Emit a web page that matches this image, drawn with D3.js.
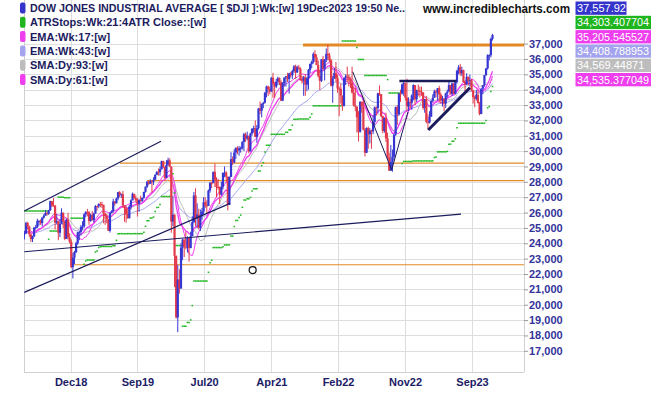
<!DOCTYPE html>
<html>
<head>
<meta charset="utf-8">
<script src="https://cdn.jsdelivr.net/npm/d3@7"></script>
<style>
  body { margin: 0; background: #fff; }
  svg { display: block; font-family: Arial, "Liberation Sans", sans-serif; }
</style>
</head>
<body>
<div id="chart"></div>
<script>
// weekly bars, first bar = week of 28 May 2018, last = week of 18 Dec 2023
const closes = [
  // 2018
  24635,25317,25090,24581,24271,24456,25019,25058,25451,25463,25313,25669,25790,25965,25917,26155,26743,26458,26447,25340,25444,24688,25270,25989,25413,24286,25538,24389,24101,22445,23062,23433,
  // 2019
  23996,24706,24737,25064,25106,25883,26031,26026,25450,25849,25502,25929,26425,26412,26559,26543,26505,25942,25764,25586,24815,25984,26090,26719,26600,26922,27332,27154,27192,26485,26287,25886,25629,26403,26797,27220,26935,26820,26573,26817,26770,26958,27347,27681,28005,27876,28051,28015,28135,28455,28645,28634,
  // 2020
  28823,29348,28990,28256,29103,29398,28992,25409,25865,23186,19174,21637,21053,23719,24242,23775,23724,24331,23685,24465,25383,27111,25606,25871,25016,25827,26075,26672,26470,26428,27433,27931,27930,28654,28133,27666,27657,27174,27683,28587,28606,28336,26502,28323,29480,29263,29910,30218,30046,30179,30200,30606,
  // 2021
  31098,30814,30997,29983,31148,31458,31494,30932,31496,32779,32628,33073,33153,33801,34201,34043,33875,34778,34382,34208,34529,34756,34480,33290,34434,34786,34870,34688,35062,34935,35209,35515,35120,35456,35369,34608,34585,34798,34326,34746,35295,35677,35820,36328,36100,35602,34899,34580,35971,35365,35951,36338,
  // 2022
  36231,35912,34265,34725,35089,34738,34079,34058,33615,32944,34755,34861,34818,34721,34451,33811,32977,32899,32197,31262,33213,32900,31393,29889,31501,31097,31338,31288,31899,32845,32803,33761,33707,32283,31318,32151,30822,29590,28726,29297,29635,31083,32862,32403,33748,33746,34347,34430,33477,32920,33204,33147,
  // 2023
  33631,34303,33375,33978,33926,33870,33827,32817,33391,31910,31862,32238,33274,33485,33887,33809,34098,33674,33301,33427,33093,33763,33877,34299,33727,34408,33734,34509,35228,35459,35066,35281,34500,34347,34838,34577,34618,33964,33508,33408,33670,33127,32418,34061,34283,34947,35390,36246,36248,37306,37558
];
const highs = [
  24800,25400,25400,25150,24600,24500,25050,25200,25600,25500,25550,25700,25900,26170,26050,26180,26770,26650,26950,26500,25900,25400,25550,26280,26000,25300,25600,25980,24650,24250,23380,23500,
  24100,24750,24800,25200,25440,25950,26100,26240,26100,25930,26100,26000,26480,26450,26600,26700,26700,26500,26000,25900,25500,26000,26150,26900,26750,26970,27350,27400,27250,27400,26400,26400,26260,26480,26860,27300,27200,27100,26950,26900,27100,26980,27350,27700,28050,28100,28170,28100,28300,28500,28700,28870,
  29000,29380,29370,28900,29410,29570,29530,28400,27100,25700,23200,22600,22300,24000,24300,24200,24760,24450,24300,24750,25760,27340,27580,26600,26250,26200,26300,27000,27000,26800,27500,28000,28000,28660,29200,28300,28200,27700,28000,28600,29000,28700,28200,28350,29930,29650,30120,30230,30320,30330,30300,30640,
  31200,31200,31270,31000,31200,31480,31650,32000,31700,32800,33230,33100,33200,33850,34260,34260,34200,34820,35100,34500,34700,34850,34800,34600,34500,34800,34900,35100,35100,35170,35300,35600,35630,35560,35600,35450,34900,34900,35000,34800,35350,35700,35900,36430,36570,36300,35900,35300,35990,36200,36000,36680,
  36950,36400,36000,34900,35400,35800,35000,34200,34400,33600,34800,35000,35500,35000,34800,35500,34200,34120,32900,32600,33250,33200,33300,31500,31550,31600,31500,31400,32300,32900,32900,33800,34280,33700,32300,32200,32500,31200,29900,30400,30100,31100,32900,33000,33800,34000,34400,34600,34300,34710,33500,33400,
  33700,34350,34300,34000,34340,34200,34200,33800,33400,33600,32400,32600,33300,33700,34000,34000,34100,34250,33800,33600,33400,33800,34000,34600,34300,34450,34400,34600,35300,35600,35680,35500,35300,34600,35070,34850,34980,34700,34000,33600,34000,34000,33200,34100,34300,34950,35400,36300,36300,37400,37640
];
const lows = [
  24250,24700,24900,24420,24080,24080,24400,24900,25000,25150,25200,25100,25600,25850,25800,25850,26100,26350,26400,24900,25250,24200,24400,25400,25000,24200,24300,24250,24000,22400,21710,22640,
  23350,23900,24200,24500,24880,25000,25700,25760,25200,25400,25490,25350,26000,26130,26300,26350,26300,25300,25200,25300,24800,24700,25950,26000,26450,26700,26800,27000,26950,26300,25400,25340,25600,25700,26200,26800,26900,26700,25740,26050,26700,26700,26900,27300,27600,27800,27900,27300,27800,28200,28480,28400,
  28400,28800,28900,28170,28300,29050,28950,24680,25100,21150,19100,18210,20730,21600,22900,23100,23600,23400,22800,23700,24750,25300,25100,25000,24900,24800,25500,25900,26300,25900,26500,27300,27600,27900,27660,27000,27500,26540,27100,27500,28300,28000,26140,26500,28900,29100,29200,29500,29800,29700,29900,30100,
  30000,30600,30700,29860,30000,31000,31200,30900,30550,31400,32400,32200,32800,33100,33500,33600,33700,33900,33470,33470,34100,34300,34300,33270,33250,34200,34200,34500,33740,34800,34700,35100,34700,35100,35300,34600,34400,33600,33600,33900,34000,35100,35400,35700,35800,35600,34800,33980,34500,35300,34600,35800,
  35900,35800,34200,33150,34700,34500,33800,32270,33100,32630,32900,34300,34500,34200,34100,33750,32900,32600,31200,30630,31200,32500,31350,29650,29900,30150,30500,30150,31100,31600,32300,32500,33600,32200,31160,31200,30600,29500,28710,28900,28660,29400,31000,31700,32300,33200,33700,33600,33300,32600,32600,32800,
  32700,33300,33000,33200,33600,33500,33600,32700,32500,31800,31430,31800,32300,33200,33500,33500,33300,33200,33100,32900,32600,32800,33500,33900,33700,33600,33700,33700,34400,35000,34900,34900,34450,33900,34300,34300,34200,33900,33100,32850,33300,33100,32330,32400,33700,34200,34900,35300,35900,36100,37200
];

const priceTicks = d3.range(17000, 37001, 1000);
const dateTickBars = [28.6, 70, 111.3, 153, 194.3, 235.8, 277.3];
const dateTickLabels = ["Dec18", "Sep19", "Jul20", "Apr21", "Feb22", "Nov22", "Sep23"];

// horizontal support/resistance levels: price, first bar
const levelPrices = [29224, 28085, 22603, 36906];
const levelStartBars = [59.2, 75.9, 28.7, 172.6];
const levelWidths = [1.2, 1.2, 1.2, 3];

// drawn trend lines as [bar, price] points
const upperChannel = [[-0.1, 26100], [84.6, 30640]];
const lowerChannel = [[-0.1, 20806], [127.4, 26600]];
const longTrend = [[-0.1, 23449], [270.5, 25904]];
const neckLine = [[232.3, 34563], [267.8, 34563]];
const risingLine = [[250.2, 31372], [276.0, 34126]];
const vLine = [[203.4, 35168], [227.5, 28768], [237.6, 32544]];
const cursorPoint = [141.4, 22258];

const legendNames = ["DOW JONES INDUSTRIAL AVERAGE [ $DJI ]:Wk:[w]  19Dec2023 19:50 Ne..", "ATRStops:Wk:21:4ATR Close::[w]", "EMA:Wk:17:[w]", "EMA:Wk:43:[w]", "SMA:Dy:93:[w]", "SMA:Dy:61:[w]"];
const legendColors = ["#3434cc", "#1fb51f", "#ee3eee", "#a4a4ee", "#bdbdbd", "#ee3eee"];
const legendValues = ["37,557.92", "34,303.407704", "35,205.545527", "34,408.788953", "34,569.44871", "34,535.377049"];

const atrPeriod = 21, atrMult = 4;
const atrStartStop = 26100; // stop level showing at the left edge (downtrend)
const emaFast = 17, emaSlow = 43, smaLong = 19, smaShort = 12; // 93 and 61 days in weeks

const width = 651, height = 395;
const plotLeft = 24, plotRight = 524, plotBottom = 372;

const svg = d3.select("#chart").append("svg")
    .attr("width", width)
    .attr("height", height);

const x = d3.scaleLinear().domain([0, closes.length - 1]).range([24.44, 492.5]);
const y = d3.scaleLinear().domain([17000, 37000]).range([350.8, 43.6]);

svg.append("clipPath").attr("id", "plotclip")
    .append("rect").attr("x", plotLeft).attr("y", 0)
    .attr("width", plotRight - plotLeft).attr("height", plotBottom);

// grid
const grid = svg.append("g").attr("stroke", "#dedede").attr("stroke-width", 1);
grid.selectAll("line.h").data(priceTicks).enter().append("line")
    .attr("x1", plotLeft).attr("x2", plotRight)
    .attr("y1", d => Math.round(y(d)) + 0.5).attr("y2", d => Math.round(y(d)) + 0.5);
grid.selectAll("line.v").data(dateTickBars).enter().append("line")
    .attr("x1", d => Math.round(x(d)) + 0.5).attr("x2", d => Math.round(x(d)) + 0.5)
    .attr("y1", 0).attr("y2", plotBottom);
grid.append("line").attr("x1", plotLeft + 0.5).attr("x2", plotLeft + 0.5).attr("y1", 0).attr("y2", plotBottom).attr("stroke", "#d0d0d0");
grid.append("line").attr("x1", plotLeft).attr("x2", plotRight).attr("y1", plotBottom + 0.5).attr("y2", plotBottom + 0.5).attr("stroke", "#d0d0d0");
grid.append("line").attr("x1", plotRight + 0.5).attr("x2", plotRight + 0.5).attr("y1", 0).attr("y2", plotBottom).attr("stroke", "#d0d0d0");

const plot = svg.append("g").attr("clip-path", "url(#plotclip)");

// levels
plot.selectAll("line.level").data(levelPrices).enter().append("line")
    .attr("x1", (d, i) => x(levelStartBars[i])).attr("x2", plotRight)
    .attr("y1", d => y(d)).attr("y2", d => y(d))
    .attr("stroke", "#e38a26")
    .attr("stroke-width", (d, i) => levelWidths[i]);

// indicators
const ema = n => {
  const k = 2 / (n + 1);
  let e = closes[0];
  return closes.map(c => (e = c * k + e * (1 - k)));
};
const sma = n => closes.map((c, i) => d3.mean(closes.slice(Math.max(0, i - n + 1), i + 1)));

const maLine = d3.line().x((d, i) => x(i)).y(d => y(d));
[[sma(smaLong), "#bdbdbd", 1], [ema(emaSlow), "#a4a4ee", 1], [sma(smaShort), "#ee3eee", 1], [ema(emaFast), "#ee3eee", 1.3]]
  .forEach(([vals, col, w]) => {
    plot.append("path").datum(vals)
        .attr("d", maLine).attr("fill", "none")
        .attr("stroke", col).attr("stroke-width", w);
  });

// ATR trailing stops
const tr = closes.map((c, i) => i === 0 ? highs[0] - lows[0]
    : Math.max(highs[i], closes[i - 1]) - Math.min(lows[i], closes[i - 1]));
const atr = [];
tr.forEach((t, i) => {
  if (i < atrPeriod) atr.push(d3.mean(tr.slice(0, i + 1)));
  else atr.push((atr[i - 1] * (atrPeriod - 1) + t) / atrPeriod);
});
let upTrend = false;
let stop = atrStartStop;
const stops = closes.map((c, i) => {
  if (i > 0) {
    if (upTrend) {
      stop = Math.max(stop, c - atrMult * atr[i]);
      if (c < stop) { upTrend = false; stop = c + atrMult * atr[i]; }
    } else {
      stop = Math.min(stop, c + atrMult * atr[i]);
      if (c > stop) { upTrend = true; stop = c - atrMult * atr[i]; }
    }
  }
  return stop;
});
plot.selectAll("line.stop").data(stops).enter().append("line")
    .attr("x1", (d, i) => x(i) - 0.81).attr("x2", (d, i) => x(i) + 0.81)
    .attr("y1", d => y(d)).attr("y2", d => y(d))
    .attr("stroke", "#22b822").attr("stroke-width", 1.5);

// candles
const bars = closes.map((c, i) => ({
  i: i, o: i === 0 ? c : closes[i - 1], h: highs[i], l: lows[i], c: c
}));
const colorOf = d => d.c >= d.o ? "#3636d2" : "#e23a4a";
plot.selectAll("line.wick").data(bars).enter().append("line")
    .attr("x1", d => x(d.i)).attr("x2", d => x(d.i))
    .attr("y1", d => y(Math.max(d.h, d.o, d.c))).attr("y2", d => y(Math.min(d.l, d.o, d.c)))
    .attr("stroke", colorOf).attr("stroke-width", 1);
plot.selectAll("rect.body").data(bars).enter().append("rect")
    .attr("x", d => x(d.i) - 1.1).attr("width", 2.2)
    .attr("y", d => y(Math.max(d.o, d.c)))
    .attr("height", d => Math.max(1, y(Math.min(d.o, d.c)) - y(Math.max(d.o, d.c))))
    .attr("fill", colorOf);

// trend lines
const tl = d3.line().x(d => x(d[0])).y(d => y(d[1]));
[[upperChannel, 1.2], [lowerChannel, 1.2], [longTrend, 1.2], [neckLine, 2.5], [risingLine, 3], [vLine, 1]]
  .forEach(([pts, w]) => {
    plot.append("path").datum(pts).attr("d", tl)
        .attr("fill", "none").attr("stroke", "#1b1b5c").attr("stroke-width", w);
  });

plot.append("circle")
    .attr("cx", x(cursorPoint[0])).attr("cy", y(cursorPoint[1])).attr("r", 3.5)
    .attr("fill", "#fff").attr("stroke", "#111").attr("stroke-width", 1.2);

// axes
const yAxis = svg.append("g").attr("transform", `translate(${plotRight},0)`)
    .call(d3.axisRight(y).tickValues(priceTicks).tickFormat(d3.format(",")).tickSize(4).tickPadding(1));
yAxis.select(".domain").remove();
yAxis.selectAll("line").attr("stroke", "#9a9a9a");
yAxis.selectAll("text").attr("fill", "#33339a").attr("font-size", 11).attr("font-weight", "bold")
    .attr("font-family", "Arial, 'Liberation Sans', sans-serif");

const xAxis = svg.append("g").attr("transform", `translate(0,${plotBottom})`)
    .call(d3.axisBottom(x).tickValues(dateTickBars).tickFormat((d, i) => dateTickLabels[i]).tickSize(0).tickPadding(6));
xAxis.select(".domain").remove();
xAxis.selectAll("text").attr("fill", "#1b1b66").attr("font-size", 11).attr("font-weight", "bold")
    .attr("font-family", "Arial, 'Liberation Sans', sans-serif");

// legend
const legend = svg.append("g");
legendNames.forEach((name, i) => {
  const cy = 8 + i * 14.3;
  legend.append("rect").attr("x", 20).attr("y", cy - 5.5).attr("width", 5.5).attr("height", 11)
      .attr("rx", 2).attr("fill", legendColors[i]);
  const t = legend.append("text").attr("x", 30).attr("y", cy + 4)
      .attr("font-size", 11).attr("font-weight", "bold").attr("fill", "#1b1b5e")
      .text(name);
  if (i === 0) t.attr("textLength", 375).attr("lengthAdjust", "spacingAndGlyphs");
});
svg.append("text").attr("x", 423).attr("y", 13)
    .attr("font-size", 12).attr("font-weight", "bold").attr("fill", "#111")
    .attr("textLength", 147).attr("lengthAdjust", "spacingAndGlyphs")
    .text("www.incrediblecharts.com");

const boxes = svg.append("g");
legendValues.forEach((v, i) => {
  const top = 1.5 + i * 14.3;
  boxes.append("rect").attr("x", 575.5).attr("y", top)
      .attr("width", i === 0 ? 51 : 75.5).attr("height", 13.3)
      .attr("fill", legendColors[i]);
  const t = boxes.append("text").attr("x", 577).attr("y", top + 10.5)
      .attr("font-size", 11).attr("fill", "#fff").text(v);
  if (t.node().getComputedTextLength() > 72) t.attr("textLength", 72).attr("lengthAdjust", "spacingAndGlyphs");
});
</script>
</body>
</html>
